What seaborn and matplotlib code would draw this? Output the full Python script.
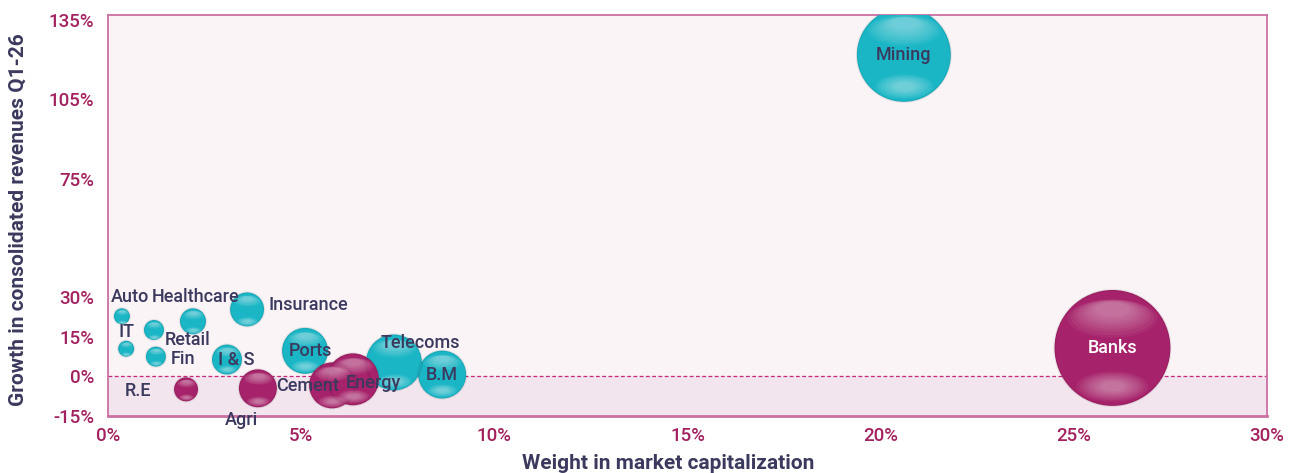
import numpy as np
import pandas as pd
import matplotlib
matplotlib.use("Agg")
import matplotlib.pyplot as plt
import matplotlib.transforms as mtransforms
from matplotlib.path import Path
import seaborn as sns

# Data
sectors = ["Auto", "IT", "Retail", "Fin", "Healthcare", "Insurance", "I & S", "R.E",
           "Agri", "Ports", "Telecoms", "B.M", "Cement", "Energy", "Mining", "Banks"]
weight = [0.36, 0.47, 1.19, 1.24, 2.2, 3.6, 3.08, 2.02,
          3.88, 5.1, 7.4, 8.65, 5.8, 6.34, 20.6, 26.0]          # % of market cap
growth = [22.8, 10.5, 17.6, 7.5, 20.9, 25.4, 6.4, -4.9,
          -4.5, 9.7, 5.3, 0.7, -3.4, -1.1, 121.9, 10.8]        # % revenue growth
bubble_size = [64, 64, 100, 100, 169, 289, 225, 144,
               361, 529, 784, 576, 529, 676, 2209, 3364]
group = ["up", "up", "up", "up", "up", "up", "up", "down",
         "down", "up", "up", "up", "down", "down", "up", "down"]

x_ticks = [0, 5, 10, 15, 20, 25, 30]
y_ticks = [-15, 0, 15, 30, 75, 105, 135]

df = pd.DataFrame({"sector": sectors, "weight": weight, "growth": growth,
                   "size": bubble_size, "group": group})

TEAL = "#1bb6c6"
MAGENTA = "#a6226a"
NAVY = "#3b3a5e"
TICK = "#a3215f"
SPINE = "#cc6fa2"

# label offsets in pixels (layout only)
offsets = {"Auto": (8, 19), "IT": (0, 17), "Retail": (34, -10), "Fin": (27, -2),
           "Healthcare": (3, 24), "Insurance": (61, 4), "I & S": (9, 0), "R.E": (-48, -2),
           "Agri": (-16, -32), "Ports": (5, 0), "Cement": (-25, -1), "Energy": (20, -4),
           "Telecoms": (26, 19), "B.M": (0, 0), "Mining": (0, 0), "Banks": (0, 0)}

sns.set_style("white")
plt.rcParams["font.family"] = ["Roboto", "DejaVu Sans"]

fig = plt.figure(figsize=(12.93, 4.73), dpi=100)
ax = fig.add_axes([108 / 1293, 57 / 473, 1159 / 1293, 401 / 473])
ax.set_facecolor("#faf4f7")

ax.set_xlim(0, 30)
ax.set_ylim(-15, 137)
ax.axhspan(-15, 0, color="#f3e5ee", zorder=0)
ax.axhline(0, color="#c8287a", lw=0.9, ls=(0, (3, 2)), zorder=1)

# marker area: r_px^2 -> points^2 for diameter 2r px at 100 dpi
smin, smax = 2.07 * min(bubble_size), 2.07 * max(bubble_size)
sns.scatterplot(data=df, x="weight", y="growth", hue="group", size="size",
                sizes=(smin, smax), palette={"up": TEAL, "down": MAGENTA},
                legend=False, linewidth=0, ax=ax, zorder=3)

# glossy highlights, drawn as stacks of faint ellipses
t = np.linspace(0, 2 * np.pi, 60)
ellipse = Path(np.column_stack([np.cos(t), 0.42 * np.sin(t)]), closed=True)
vmin, vmax = min(bubble_size), max(bubble_size)
top_layers = [(0.52 + 0.02 * k, 0.78 - 0.06 * k, 0.05) for k in range(9)]
bot_layers = [(-0.66, 0.62 - 0.06 * k, 0.06) for k in range(8)]
for i, row in df.iterrows():
    s = smin + (row["size"] - vmin) / (vmax - vmin) * (smax - smin)
    r = np.sqrt(s) / 2  # points
    # darker rim
    ax.scatter([row["weight"]], [row["growth"]], s=s, facecolor="none",
               edgecolor="black", alpha=0.07, linewidths=1.6, zorder=3.4)
    for dy, w, a in top_layers + bot_layers:
        tr = mtransforms.offset_copy(ax.transData, fig=fig, x=0, y=dy * r, units="points")
        ax.scatter([row["weight"]], [row["growth"]], s=(w * 2 * r) ** 2,
                   marker=ellipse, color="white", alpha=a, linewidths=0,
                   transform=tr, zorder=3.5)

for _, row in df.iterrows():
    dx, dy = offsets[row["sector"]]
    ax.annotate(row["sector"], (row["weight"], row["growth"]), xytext=(dx, dy),
                textcoords="offset pixels", ha="center", va="center",
                fontsize=13, color="white" if row["sector"] == "Banks" else NAVY,
                fontweight="medium", zorder=5, annotation_clip=False)

ax.set_xticks(x_ticks)
ax.set_xticklabels([f"{v}%" for v in x_ticks])
ax.set_yticks(y_ticks)
ax.set_yticklabels([f"{v}%" for v in y_ticks])
ax.tick_params(axis="both", length=0, labelsize=13.5, labelcolor=TICK)
for lab in ax.get_xticklabels() + ax.get_yticklabels():
    lab.set_fontweight("medium")
ax.tick_params(axis="x", pad=8)
ax.tick_params(axis="y", pad=10)

for sp in ax.spines.values():
    sp.set_visible(True)
    sp.set_color(SPINE)
    sp.set_linewidth(1.3)
ax.spines["bottom"].set_linewidth(2)

ax.set_xlabel("Weight in market capitalization", fontsize=15, fontweight="bold",
              color=NAVY)
ax.set_ylabel("Growth in consolidated revenues Q1-26", fontsize=15, fontweight="bold",
              color=NAVY)
ax.xaxis.set_label_coords(0.483, -0.095)
ax.yaxis.set_label_coords(-0.069, 0.49)

fig.savefig("out.png", dpi=100)
